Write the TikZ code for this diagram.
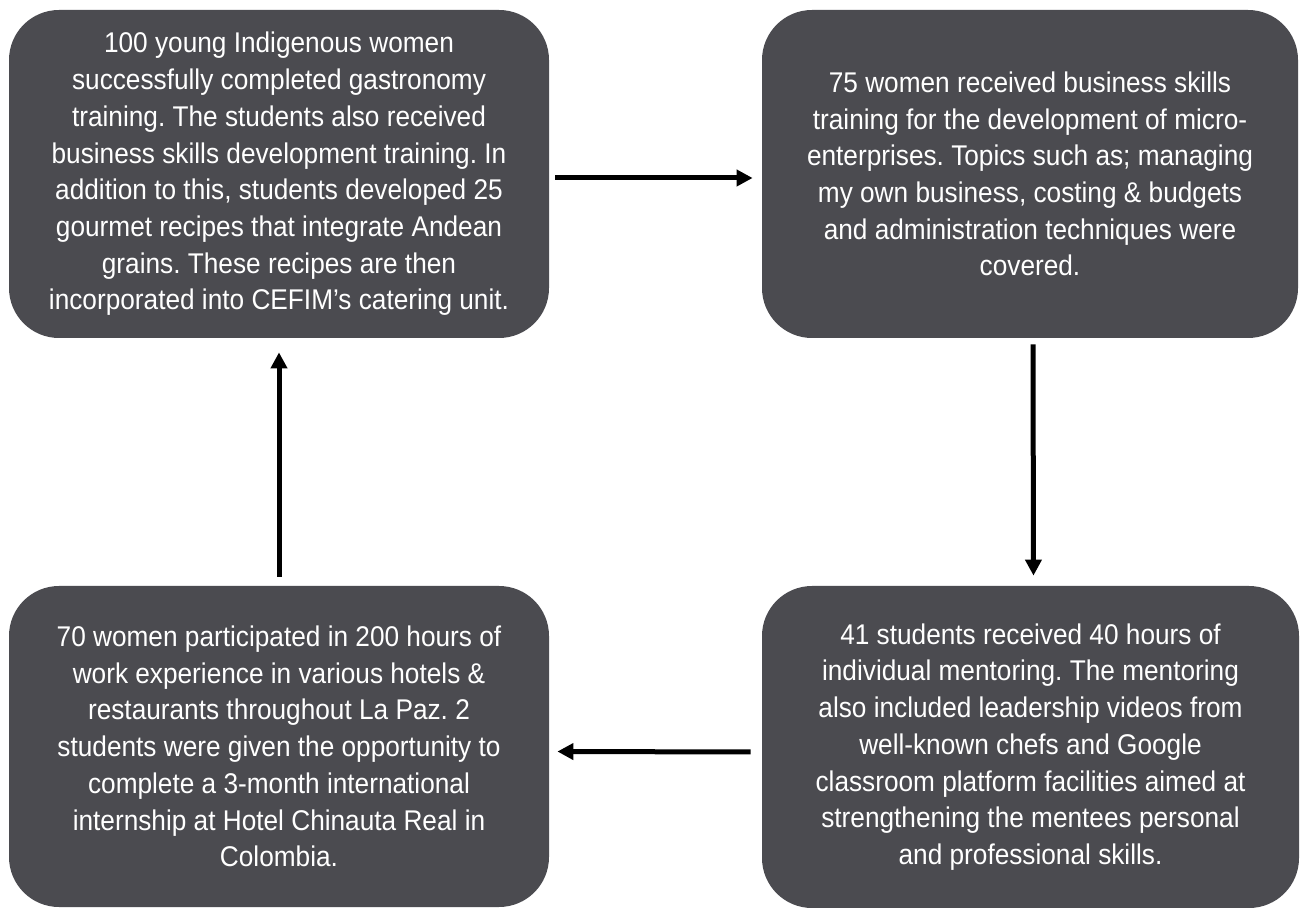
\documentclass[tikz,border=0pt]{standalone}
\usepackage{fontspec}
\setmainfont{Liberation Sans}[FakeStretch=0.92]
\usetikzlibrary{arrows.meta,positioning}
\definecolor{boxgrey}{HTML}{4B4B50}
\frenchspacing

\begin{document}
\begin{tikzpicture}[x=0.5pt, y=-0.5pt,
    stage/.style={fill=boxgrey, text=white, rounded corners=25pt, align=center,
        inner sep=0pt, font=\fontsize{14.25pt}{18.35pt}\selectfont},
    flow/.style={line width=2.5pt, -{Triangle[length=8pt,width=8pt]}}
]
    \useasboundingbox (0,0) rectangle (1301,908);

    \node[stage, minimum width=270pt, minimum height=164pt] (training) at (279,174)
        {100 young Indigenous women\\
         successfully completed gastronomy\\
         training. The students also received\\
         business skills development training. In\\
         addition to this, students developed 25\\
         gourmet recipes that integrate Andean\\
         grains. These recipes are then\\
         incorporated into CEFIM’s catering unit.};
    \node[stage, minimum width=268pt, minimum height=164pt] (business) at (1030,174)
        {75 women received business skills\\
         training for the development of micro-\\
         enterprises. Topics such as; managing\\
         my own business, costing \& budgets\\
         and administration techniques were\\
         covered.};
    \node[stage, minimum width=268.5pt, minimum height=161pt] (mentoring) at (1030.5,747)
        {41 students received 40 hours of\\
         individual mentoring. The mentoring\\
         also included leadership videos from\\
         well-known chefs and Google\\
         classroom platform facilities aimed at\\
         strengthening the mentees personal\\
         and professional skills.};
    \node[stage, minimum width=270pt, minimum height=160.5pt] (workexp) at (279,746.5)
        {70 women participated in 200 hours of\\
         work experience in various hotels \&\\
         restaurants throughout La Paz. 2\\
         students were given the opportunity to\\
         complete a 3-month international\\
         internship at Hotel Chinauta Real in\\
         Colombia.};

    \draw[flow, shorten <=3pt, shorten >=4.5pt]
        ([yshift=-2pt]training.east) -- ([yshift=-2pt]business.west);
    \draw[flow, shorten <=3pt, shorten >=5pt]
        ([xshift=1.5pt]business.south) -- ([xshift=1.5pt]mentoring.north);
    \draw[flow, shorten <=5.5pt, shorten >=4pt]
        ([yshift=-2.5pt]mentoring.west) -- ([yshift=-2.5pt]workexp.east);
    \draw[flow, shorten <=4.5pt, shorten >=7pt]
        (workexp.north) -- (training.south);
\end{tikzpicture}
\end{document}
